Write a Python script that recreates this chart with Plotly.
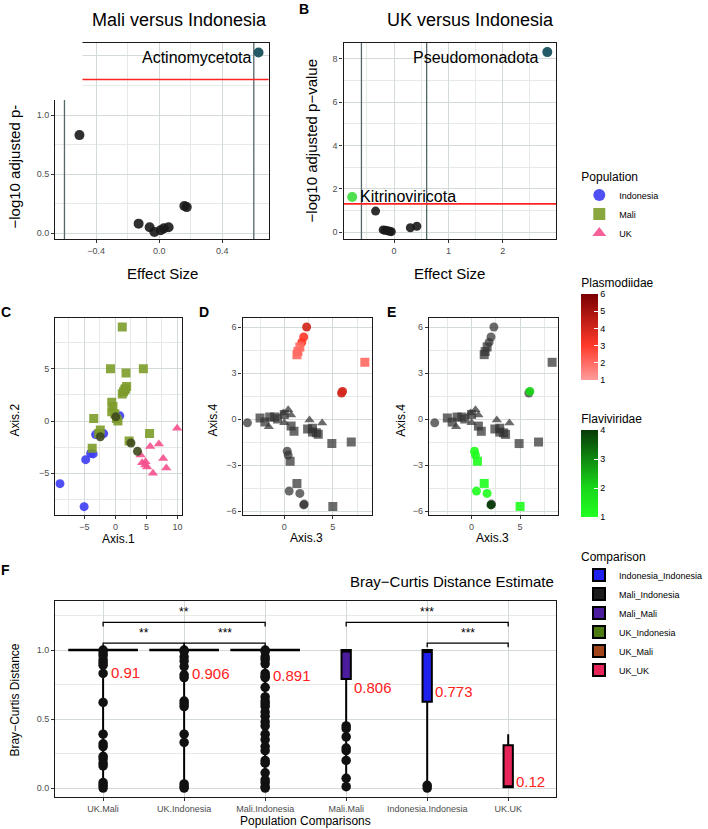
import plotly.graph_objects as go

W, H = 708, 829
def px(v): return v / W
def py(v): return 1 - v / H

FONT = "Liberation Sans, Arial, Helvetica, sans-serif"
GRID = "#d3dbd6"
MINOR = "#e5eae7"
TICKC = "#4d4d4d"

# ---------------- Panel A: Mali versus Indonesia ----------------
a_effect = [-0.505, -0.13, -0.06, -0.03, 0.01, 0.03, 0.06, 0.16, 0.175]
a_logp = [0.83, 0.08, 0.05, 0.01, 0.025, 0.04, 0.05, 0.23, 0.22]
a_sig_name = ["Actinomycetota"]
a_sig_effect = [0.63]
a_sig_logp = [1.53]
a_xrange = [-0.658, 0.695]
a_yrange = [-0.05, 1.61]

# ---------------- Panel B: UK versus Indonesia ----------------
b_effect = [-0.34, -0.2, -0.16, -0.12, -0.08, -0.05, 0.3, 0.42]
b_logp = [0.97, 0.1, 0.08, 0.06, 0.04, 0.02, 0.2, 0.27]
b_sig_name = ["Kitrinoviricota", "Pseudomonadota"]
b_sig_effect = [-0.77, 2.82]
b_sig_logp = [1.62, 8.31]
b_sig_color = ["#4ee04e", "#245a66"]
b_xrange = [-0.93, 2.98]
b_yrange = [-0.32, 8.73]

effect_cut = 0.6
p_cut = 1.301

# ---------------- Panel C: PCoA Axis.1 / Axis.2 ----------------
c_indo_x = [-8.95, -5.05, -4.8, -4.0, -3.6, -3.2, -1.9, 0.7]
c_indo_y = [-6.0, -8.2, -3.7, -3.1, -3.15, -1.3, -1.2, 0.5]
c_mali_x = [1.1, -0.8, 1.7, 4.5, 1.5, 1.3, 1.1, 1.8, 1.6, -0.6, -0.4, -0.1, -0.6, 0.15, 0.4,
            -3.5, -2.45, -2.7, 5.5, 2.2, -3.75]
c_mali_y = [9.0, 5.0, 4.6, 5.0, 3.0, 2.8, 2.6, 3.3, 3.1, 1.8, 1.4, 0.7, 0.9, 0.25, 0.0,
            0.25, -0.86, -1.2, -1.2, -1.9, -2.6]
c_uk_x = [9.95, 5.6, 7.0, 4.05, 4.85, 4.3, 4.8, 5.1, 7.7, 8.2, 6.05]
c_uk_y = [-0.7, -2.45, -2.2, -3.25, -3.9, -4.0, -4.2, -4.4, -3.6, -4.5, -5.0]
c_mix_x = [0.05, -2.45, 2.5, 3.55]
c_mix_y = [0.4, -1.5, -2.1, -2.9]

# ---------------- Panels D/E: PCoA Axis.3 / Axis.4 ----------------
de_x = [-3.8, -2.5, -2.0, -1.5, -1.0, -0.7, -1.6, -0.1, 0.4, 0.7, 0.0, 0.0, 0.7, 1.0,
        2.6, 2.4, 2.9, 3.3, 3.5, 3.9, 2.9, 4.9, 6.9,
        0.3, 0.4, 0.6, 1.3, 0.5, 1.6, 2.0, 2.05, 5.0,
        2.3, 2.0, 1.8, 1.6, 1.4, 1.3, 8.3, 5.9, 6.0]
de_y = [-0.25, 0.07, -0.2, 0.13, 0.13, 0.0, -0.5, 0.4, 0.6, 0.26, 0.3, -0.25, -0.46, -0.8,
        -0.06, -0.65, -0.85, -0.9, -1.0, -0.26, -0.6, -1.6, -1.5,
        -2.1, -2.35, -2.75, -4.2, -4.7, -4.85, -5.6, -5.55, -5.7,
        6.0, 5.35, 5.0, 4.7, 4.4, 4.2, 3.7, 1.7, 1.8]
de_pop = ["Indonesia", "Mali", "Mali", "Mali", "Mali", "Mali", "UK", "UK", "UK", "UK", "Mali", "UK", "Mali", "Mali",
          "UK", "Mali", "Mali", "Mali", "Mali", "UK", "Mali", "Mali", "Mali",
          "Indonesia", "Indonesia", "Mali", "Mali", "Indonesia", "Indonesia", "Indonesia", "Indonesia", "Mali",
          "Indonesia", "Indonesia", "Indonesia", "Mali", "Mali", "Mali", "Mali", "Indonesia", "Indonesia"]
de_plas = [None] * 32 + [4, 3, 3, 2, 2, 2, 2, 4, 4]
de_flavi = [None] * 23 + [1, 1, 1, 1, 1, 1, 4, None, 1] + [None] * 8 + [2]

# ---------------- Panel F: Bray-Curtis distances ----------------
f_cats = ["UK.Mali", "UK.Indonesia", "Mali.Indonesia", "Mali.Mali", "Indonesia.Indonesia", "UK.UK"]
f_groups = ["UK_Mali", "UK_Indonesia", "Mali_Indonesia", "Mali_Mali", "Indonesia_Indonesia", "UK_UK"]
f_q1 = [1.0, 1.0, 1.0, 0.79, 0.625, 0.005]
f_median = [1.0, 1.0, 1.0, 0.99, 0.985, 0.01]
f_q3 = [1.0, 1.0, 1.0, 1.0, 1.0, 0.31]
f_lower = [0.0, 0.0, 0.0, 0.0, 0.0, 0.0]
f_upper = [1.0, 1.0, 1.0, 1.0, 1.0, 0.39]
f_mean = [0.91, 0.906, 0.891, 0.806, 0.773, 0.12]
f_peak = [1.0, 1.0, 1.0, None, None, None]
f_dots_uk_mali = [1.0, 0.98, 0.96, 0.93, 0.91, 0.89, 0.83, 0.62, 0.39, 0.32, 0.30, 0.23, 0.21,
                  0.18, 0.16, 0.04, 0.02, 0.0]
f_dots_uk_indo = [1.0, 0.99, 0.95, 0.92, 0.88, 0.82, 0.80, 0.63, 0.61, 0.59, 0.39, 0.33, 0.03,
                  0.01, 0.0]
f_dots_mali_indo = [1.0, 0.99, 0.95, 0.93, 0.90, 0.83, 0.81, 0.80, 0.73, 0.66, 0.63, 0.61, 0.59,
                    0.55, 0.52, 0.48, 0.45, 0.39, 0.35, 0.30, 0.27, 0.20, 0.18, 0.11, 0.06, 0.04,
                    0.01, 0.0]
f_dots_mali_mali = [0.45, 0.43, 0.37, 0.29, 0.27, 0.20, 0.07, 0.01]
f_dots_indo_indo = [0.02, 0.0]
f_dots_uk_uk = []
f_sig = [(0, 2, 1.20, "**"), (0, 1, 1.05, "**"), (1, 2, 1.05, "***"),
         (3, 5, 1.20, "***"), (4, 5, 1.05, "***")]
comp_order = ["Indonesia_Indonesia", "Mali_Indonesia", "Mali_Mali", "UK_Indonesia", "UK_Mali", "UK_UK"]
comp_colors = {"Indonesia_Indonesia": "#2020ee", "Mali_Indonesia": "#1c1c1c", "Mali_Mali": "#4b1d9e",
               "UK_Indonesia": "#4e7a12", "UK_Mali": "#a0441c", "UK_UK": "#e8255a"}

pop_colors = {"Indonesia": "#3c3cf2", "Mali": "#7d9c2a", "UK": "#f5508e"}
pop_symbols = {"Indonesia": "circle", "Mali": "square", "UK": "triangle-up"}

fig = go.Figure()

# ---- A / B threshold lines (drawn first, under the points) ----
for xa, ya, xr, yr in [("x", "y", a_xrange, a_yrange), ("x2", "y2", b_xrange, b_yrange)]:
    for t in (-effect_cut, effect_cut):
        fig.add_trace(go.Scatter(x=[t, t], y=yr, mode="lines", xaxis=xa, yaxis=ya, showlegend=False,
                                 hoverinfo="skip", line=dict(color="#56676a", width=1.3)))
    fig.add_trace(go.Scatter(x=xr, y=[p_cut, p_cut], mode="lines", xaxis=xa, yaxis=ya, showlegend=False,
                             hoverinfo="skip", line=dict(color="#ff2424", width=1.6)))

# ---- A ----
fig.add_trace(go.Scatter(x=a_effect, y=a_logp, mode="markers", xaxis="x", yaxis="y", showlegend=False,
                         marker=dict(size=10, color="rgba(25,25,25,0.9)")))
fig.add_trace(go.Scatter(x=a_sig_effect, y=a_sig_logp, mode="markers", xaxis="x", yaxis="y", showlegend=False,
                         marker=dict(size=10, color="#245a66")))
# ---- B ----
fig.add_trace(go.Scatter(x=b_effect, y=b_logp, mode="markers", xaxis="x2", yaxis="y2", showlegend=False,
                         marker=dict(size=9, color="rgba(25,25,25,0.9)")))
fig.add_trace(go.Scatter(x=b_sig_effect, y=b_sig_logp, mode="markers", xaxis="x2", yaxis="y2", showlegend=False,
                         marker=dict(size=10, color=b_sig_color)))

# ---- C ----
for name, xs, ys in [("Indonesia", c_indo_x, c_indo_y), ("Mali", c_mali_x, c_mali_y), ("UK", c_uk_x, c_uk_y)]:
    fig.add_trace(go.Scatter(x=xs, y=ys, mode="markers", name=name, xaxis="x3", yaxis="y3", legend="legend",
                             marker=dict(size=9, color=pop_colors[name], symbol=pop_symbols[name], opacity=0.9)))
fig.add_trace(go.Scatter(x=c_mix_x, y=c_mix_y, mode="markers", xaxis="x3", yaxis="y3", showlegend=False,
                         marker=dict(size=9, color="#3f4a1c", opacity=0.9)))

# ---- D / E ----
def split(vals):
    gi = [i for i, v in enumerate(vals) if v is None]
    ci = [i for i, v in enumerate(vals) if v is not None]
    return gi, ci

for vals, xa, ya, cax in [(de_plas, "x4", "y4", "coloraxis"), (de_flavi, "x5", "y5", "coloraxis2")]:
    gi, ci = split(vals)
    fig.add_trace(go.Scatter(x=[de_x[i] for i in gi], y=[de_y[i] for i in gi], mode="markers",
                             xaxis=xa, yaxis=ya, showlegend=False,
                             marker=dict(size=9, color="rgba(50,50,50,0.72)",
                                         symbol=[pop_symbols[de_pop[i]] for i in gi])))
    fig.add_trace(go.Scatter(x=[de_x[i] for i in ci], y=[de_y[i] for i in ci], mode="markers",
                             xaxis=xa, yaxis=ya, showlegend=False,
                             marker=dict(size=9, color=[vals[i] for i in ci], coloraxis=cax, opacity=0.92,
                                         symbol=[pop_symbols[de_pop[i]] for i in ci])))

# ---- F ----
fx = list(range(len(f_cats)))
for g in comp_order:
    i = f_groups.index(g)
    fig.add_trace(go.Box(x=[fx[i]], q1=[f_q1[i]], median=[f_median[i]], q3=[f_q3[i]],
                         lowerfence=[f_lower[i]], upperfence=[f_upper[i]], name=g,
                         xaxis="x6", yaxis="y6", legend="legend2", width=0.115, whiskerwidth=0,
                         boxpoints=False, fillcolor=comp_colors[g],
                         line=dict(color="black", width=2), marker=dict(color=comp_colors[g])))
pk = [i for i, v in enumerate(f_peak) if v is not None]
fig.add_trace(go.Box(x=[fx[i] for i in pk], q1=[f_peak[i] for i in pk], median=[f_peak[i] for i in pk],
                     q3=[f_peak[i] for i in pk], lowerfence=[f_peak[i] for i in pk],
                     upperfence=[f_peak[i] for i in pk], xaxis="x6", yaxis="y6", showlegend=False,
                     width=0.86, whiskerwidth=0, boxpoints=False, fillcolor="black",
                     line=dict(color="black", width=2.5)))
for i, dots in enumerate([f_dots_uk_mali, f_dots_uk_indo, f_dots_mali_indo, f_dots_mali_mali,
                          f_dots_indo_indo, f_dots_uk_uk]):
    if dots:
        fig.add_trace(go.Scatter(x=[fx[i]] * len(dots), y=dots, mode="markers", xaxis="x6", yaxis="y6",
                                 showlegend=False, marker=dict(size=9.5, color="#111111")))
for (i, j, yv, lab) in f_sig:
    fig.add_trace(go.Scatter(x=[fx[i], fx[i], fx[j], fx[j]], y=[yv - 0.03, yv, yv, yv - 0.03],
                             mode="lines", xaxis="x6", yaxis="y6", showlegend=False,
                             line=dict(color="black", width=1.3)))

# ---- axes ----
def axis(domain, rng, dtick, minor_dtick, anchor, fmt=None, **kw):
    d = dict(domain=domain, range=rng, anchor=anchor, showline=True, linecolor="#1a1a1a", linewidth=1.3,
             mirror=True, ticks="outside", ticklen=3, tickcolor="#333333", tickwidth=1,
             showgrid=True, gridcolor=GRID, gridwidth=1.4, zeroline=False,
             tickfont=dict(size=9, color=TICKC, family=FONT))
    if dtick is not None:
        d["dtick"] = dtick
        d["tick0"] = 0
    if minor_dtick is not None:
        d["minor"] = dict(dtick=minor_dtick, tick0=0, showgrid=True, gridcolor=MINOR, gridwidth=0.9, ticks="")
    if fmt:
        d["tickformat"] = fmt
    d.update(kw)
    return d

top = [py(239), py(43)]
mid = [py(515), py(318)]
bot = [py(797), py(601)]

layout_axes = dict(
    xaxis=axis([px(57), px(277)], a_xrange, 0.4, 0.2, "y", ".1f"),
    yaxis=axis(top, a_yrange, 0.5, 0.25, "x", ".1f"),
    xaxis2=axis([px(354), px(573)], b_xrange, 1, 0.5, "y2"),
    yaxis2=axis(top, b_yrange, 2, 1, "x2"),
    xaxis3=axis([px(57), px(188)], [-9.7, 10.8], 5, 2.5, "y3"),
    yaxis3=axis(mid, [-9.0, 9.87], 5, 2.5, "x3"),
    xaxis4=axis([px(250), px(383)], [-4.3, 9.0], 5, 2.5, "y4"),
    yaxis4=axis(mid, [-6.26, 6.59], 3, 1.5, "x4"),
    xaxis5=axis([px(442), px(575)], [-4.4, 8.9], 5, 2.5, "y5"),
    yaxis5=axis(mid, [-6.26, 6.59], 3, 1.5, "x5"),
    xaxis6=axis([px(57), px(573)], [-0.59, 5.59], None, None, "y6", tickmode="array", tickvals=fx,
                ticktext=f_cats),
    yaxis6=axis(bot, [-0.065, 1.355], 0.5, 0.25, "x6", ".1f"),
)

# ---- shapes: white patch over panel A's top-left corner (as in the reference) ----
shapes = [dict(type="rect", xref="paper", yref="paper", x0=0, x1=px(85), y0=py(100), y1=1,
               fillcolor="white", line=dict(width=0), layer="above")]

# ---- annotations ----
def ann(text, x, y, size, color="black", bold=False, xanchor="center", yanchor="middle", **kw):
    t = "<b>%s</b>" % text if bold else text
    return dict(text=t, x=px(x), y=py(y), xref="paper", yref="paper", showarrow=False,
                xanchor=xanchor, yanchor=yanchor,
                font=dict(size=size, color=color, family=FONT), **kw)

anns = [
    ann("Mali versus Indonesia", 277, 20, 18, xanchor="right"),
    ann("UK versus Indonesia", 573, 20, 18, xanchor="right"),
    ann("Effect Size", 167, 273, 15),
    ann("Effect Size", 463, 273, 15),
    ann("−log10 adjusted p-", 15, 231, 15, textangle=-90, yanchor="bottom"),
    ann("−log10 adjusted p−value", 322, 141, 15, textangle=-90),
    ann("B", 313, 9, 14, bold=True),
    ann("C", 6, 312, 14, bold=True),
    ann("D", 210, 312, 14, bold=True),
    ann("E", 403, 312, 14, bold=True),
    ann("F", 6, 570, 14, bold=True),
    ann("Axis.1", 122, 539, 12),
    ann("Axis.2", 15, 420, 12, textangle=-90),
    ann("Axis.3", 316, 538, 12),
    ann("Axis.4", 220, 420, 12, textangle=-90),
    ann("Axis.3", 508, 538, 12),
    ann("Axis.4", 413, 420, 12, textangle=-90),
    ann("Bray−Curtis Distance Estimate", 573, 581, 15, xanchor="right"),
    ann("Population Comparisons", 315, 821, 12),
    ann("Bray−Curtis Distance", 15, 700, 12, textangle=-90),
]
for n, xv, yv in zip(a_sig_name, a_sig_effect, a_sig_logp):
    anns.append(dict(text=n, x=xv, y=yv, xref="x", yref="y", showarrow=False, xanchor="right",
                     yanchor="middle", xshift=-6, yshift=-5, font=dict(size=16, color="black", family=FONT)))
for n, xv, yv in zip(b_sig_name, b_sig_effect, b_sig_logp):
    if xv < 0:
        anns.append(dict(text=n, x=xv, y=yv, xref="x2", yref="y2", showarrow=False, xanchor="left",
                         yanchor="middle", xshift=6, font=dict(size=16, color="black", family=FONT)))
    else:
        anns.append(dict(text=n, x=xv, y=yv, xref="x2", yref="y2", showarrow=False, xanchor="right",
                         yanchor="middle", xshift=-6, yshift=-5, font=dict(size=16, color="black", family=FONT)))
for i, m in enumerate(f_mean):
    anns.append(dict(text=str(m), x=fx[i], y=m, xref="x6", yref="y6", showarrow=False, xanchor="left",
                     yanchor="top", xshift=6, font=dict(size=15, color="#ff2020", family=FONT)))
for (i, j, yv, lab) in f_sig:
    anns.append(dict(text=lab, x=(fx[i] + fx[j]) / 2, y=yv + 0.075, xref="x6", yref="y6", showarrow=False,
                     xanchor="center", yanchor="middle", font=dict(size=12, color="black", family=FONT)))

fig.update_layout(
    width=W, height=H, margin=dict(l=0, r=0, t=0, b=0),
    paper_bgcolor="white", plot_bgcolor="white",
    font=dict(family=FONT, color="black"),
    boxmode="overlay",
    shapes=shapes, annotations=anns,
    legend=dict(title=dict(text="Population", font=dict(size=12)), x=px(597), y=py(165),
                xanchor="left", yanchor="top", font=dict(size=9), bgcolor="rgba(0,0,0,0)",
                itemsizing="constant", tracegroupgap=0),
    legend2=dict(title=dict(text="Comparison", font=dict(size=12)), x=px(597), y=py(545),
                 xanchor="left", yanchor="top", font=dict(size=9), bgcolor="rgba(0,0,0,0)",
                 tracegroupgap=0),
    coloraxis=dict(cmin=1, cmax=6,
                   colorscale=[[0, "#ff9c9c"], [0.4, "#ff3a2a"], [1, "#7a0000"]],
                   colorbar=dict(title=dict(text="Plasmodiidae", side="top", font=dict(size=12)),
                                 x=px(599), xanchor="left", y=py(275), yanchor="top",
                                 len=105, lenmode="pixels", thickness=17, outlinewidth=0,
                                 tickvals=[1, 2, 3, 4, 5, 6], ticks="inside", tickcolor="white",
                                 ticklen=4, tickfont=dict(size=9), xpad=0, ypad=0)),
    coloraxis2=dict(cmin=1, cmax=4,
                    colorscale=[[0, "#22ff22"], [0.35, "#18d418"], [1, "#073a07"]],
                    colorbar=dict(title=dict(text="Flaviviridae", side="top", font=dict(size=12)),
                                  x=px(599), xanchor="left", y=py(411), yanchor="top",
                                  len=106, lenmode="pixels", thickness=17, outlinewidth=0,
                                  tickvals=[1, 2, 3, 4], ticks="inside", tickcolor="white",
                                  ticklen=4, tickfont=dict(size=9), xpad=0, ypad=0)),
    **layout_axes,
)

fig.write_html("out.html")
